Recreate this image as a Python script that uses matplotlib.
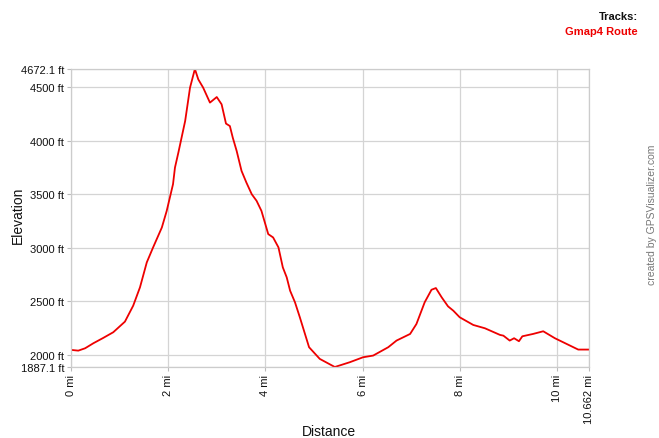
import matplotlib

matplotlib.use("Agg")
import matplotlib.pyplot as plt

RED = "#EE0000"
GRID = "#D4D4D4"
TEXT = "#111111"

# track profile (miles, feet)
distance_mi = [
    0.00, 0.15, 0.29, 0.46, 0.66, 0.87, 1.11, 1.28, 1.42, 1.56, 1.69, 1.87, 1.97,
    2.10, 2.14, 2.21, 2.35, 2.45, 2.55, 2.62, 2.72, 2.86, 3.00, 3.10, 3.19, 3.27,
    3.33, 3.41, 3.51, 3.61, 3.72, 3.82, 3.92, 4.06, 4.16, 4.27, 4.36, 4.44, 4.51,
    4.61, 4.71, 4.90, 5.12, 5.43, 5.74, 6.01, 6.22, 6.53, 6.70, 6.98, 7.11, 7.28,
    7.42, 7.51, 7.63, 7.76, 7.87, 8.00, 8.28, 8.52, 8.83, 8.90, 9.03, 9.12, 9.22,
    9.29, 9.51, 9.72, 9.96, 10.20, 10.44, 10.662,
]
elevation_ft = [
    2047, 2040, 2062, 2109, 2158, 2212, 2311, 2460, 2632, 2865, 3005, 3191, 3346,
    3596, 3751, 3891, 4187, 4498, 4672.1, 4575, 4498, 4358, 4410, 4342, 4162, 4139,
    4030, 3906, 3720, 3611, 3502, 3440, 3346, 3129, 3098, 3005, 2818, 2725, 2600,
    2492, 2352, 2072, 1963, 1887.1, 1932, 1978, 1994, 2072, 2134, 2196, 2289, 2492,
    2609, 2625, 2538, 2454, 2413, 2352, 2280, 2249, 2187, 2180, 2134, 2156, 2128,
    2174, 2196, 2221, 2156, 2103, 2050, 2050,
]

x_ticks = [0, 2, 4, 6, 8, 10, 10.662]
x_labels = ["0 mi", "2 mi", "4 mi", "6 mi", "8 mi", "10 mi", "10.662 mi"]
y_ticks = [1887.1, 2000, 2500, 3000, 3500, 4000, 4500, 4672.1]
y_labels = ["1887.1 ft", "2000 ft", "2500 ft", "3000 ft", "3500 ft", "4000 ft", "4500 ft", "4672.1 ft"]

plt.rcParams.update({"font.family": ["Liberation Sans", "DejaVu Sans"], "font.size": 8})

W, H = 659, 439
fig = plt.figure(figsize=(W / 100, H / 100), dpi=100)
ax = fig.add_axes([71 / W, 1 - 368 / H, (589 - 71) / W, (368 - 70) / H])

ax.plot(distance_mi, elevation_ft, color=RED, linewidth=1.3, solid_joinstyle="round")
ax.set_xlim(0, 10.662)
ax.set_ylim(1887.1, 4672.1)

ax.set_xticks(x_ticks, x_labels, rotation=90, fontsize=8, color=TEXT)
ax.set_yticks(y_ticks, y_labels, fontsize=8, color=TEXT)
ax.tick_params(axis="both", length=3, width=0.8, color="#BBBBBB", pad=2)
ax.grid(True, color=GRID, linewidth=0.9)
ax.set_axisbelow(True)
for spine in ax.spines.values():
    spine.set_color("#CCCCCC")
    spine.set_linewidth(0.9)

fig.text(18 / W, 1 - 215 / H, "Elevation", rotation=90, ha="center", va="center", fontsize=10, color=TEXT)
fig.text(329 / W, 1 - 432 / H, "Distance", ha="center", va="center", fontsize=10, color=TEXT)

fig.text(638 / W, 1 - 17 / H, "Tracks:", ha="right", va="center", fontsize=8, fontweight="bold", color=TEXT)
fig.text(638 / W, 1 - 32 / H, "Gmap4 Route", ha="right", va="center", fontsize=8, fontweight="bold", color=RED)
fig.text(652 / W, 1 - 215 / H, "created by GPSVisualizer.com", rotation=90, ha="center", va="center",
         fontsize=7.5, color="#777777")

fig.savefig("out.png", dpi=100)
